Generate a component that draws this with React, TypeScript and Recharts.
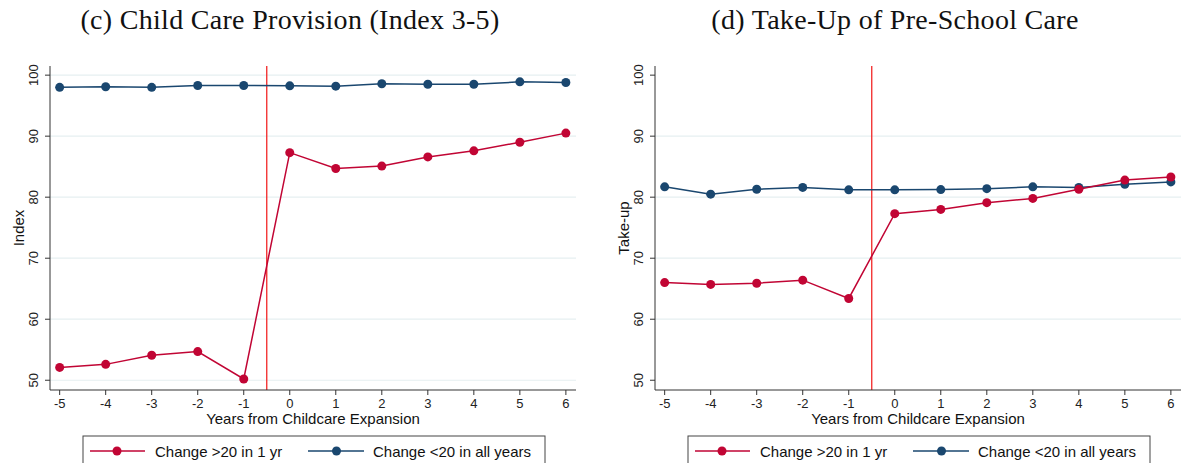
import React from "react";
import { LineChart, Line, XAxis, YAxis, CartesianGrid, ReferenceLine } from "recharts";

const years = [-5, -4, -3, -2, -1, 0, 1, 2, 3, 4, 5, 6];
const yTicks = [50, 60, 70, 80, 90, 100];

const provisionRed = [52.1, 52.6, 54.1, 54.7, 50.2, 87.3, 84.7, 85.1, 86.6, 87.6, 89.0, 90.5];
const provisionBlue = [98.0, 98.1, 98.0, 98.3, 98.3, 98.25, 98.2, 98.6, 98.5, 98.5, 98.9, 98.8];

const takeupRed = [66.0, 65.7, 65.9, 66.4, 63.4, 77.3, 78.0, 79.1, 79.8, 81.3, 82.8, 83.3];
const takeupBlue = [81.7, 80.5, 81.3, 81.6, 81.2, 81.2, 81.25, 81.4, 81.7, 81.6, 82.1, 82.5];

const legendLabels = ["Change >20 in 1 yr", "Change <20 in all years"];
const titles = ["(c) Child Care Provision (Index 3-5)", "(d) Take-Up of Pre-School Care"];
const yLabels = ["Index", "Take-up"];
const xLabel = "Years from Childcare Expansion";

const RED = "#C10534";
const BLUE = "#1A476F";
const SANS = "'Liberation Sans', Arial, sans-serif";
const SERIF = "'Liberation Serif', 'Times New Roman', serif";

const YTick = (props: any) => {
  const { x, y, payload } = props;
  const cx = x - 11;
  return (
    <text
      x={cx}
      y={y}
      transform={`rotate(-90, ${cx}, ${y})`}
      textAnchor="middle"
      dominantBaseline="central"
      fontSize={13}
      fontFamily={SANS}
      fill="#222"
    >
      {payload.value}
    </text>
  );
};

type PanelProps = {
  left: number;
  title: string;
  yLabel: string;
  red: number[];
  blue: number[];
  grid: number[];
};

const Panel = ({ left, title, yLabel, red, blue, grid }: PanelProps) => {
  const data = years.map((x, i) => ({ x, red: red[i], blue: blue[i] }));
  return (
    <div style={{ position: "absolute", left, top: 0, width: 590, height: 463 }}>
      <LineChart
        width={590}
        height={463}
        data={data}
        margin={{ top: 66, right: 14, left: 10, bottom: 43 }}
      >
        <CartesianGrid horizontal vertical={false} horizontalValues={grid} stroke="#E6EFF1" strokeWidth={1.2} />
        <XAxis
          type="number"
          dataKey="x"
          domain={[-5.21, 6.22]}
          ticks={years}
          allowDataOverflow
          height={30}
          tickSize={5}
          tickMargin={4}
          stroke="#333"
          tick={{ fontSize: 13, fontFamily: SANS, fill: "#222" }}
        />
        <YAxis
          type="number"
          domain={[48.4, 101.5]}
          ticks={yTicks}
          allowDataOverflow
          width={40}
          tickSize={5}
          tickMargin={0}
          stroke="#333"
          tick={<YTick />}
        />
        <ReferenceLine x={-0.5} stroke="#F22626" strokeWidth={1.3} />
        <Line
          dataKey="blue"
          stroke={BLUE}
          strokeWidth={1.5}
          dot={{ r: 4.5, fill: BLUE, stroke: BLUE, strokeWidth: 0 }}
          isAnimationActive={false}
        />
        <Line
          dataKey="red"
          stroke={RED}
          strokeWidth={1.5}
          dot={{ r: 4.5, fill: RED, stroke: RED, strokeWidth: 0 }}
          isAnimationActive={false}
        />
      </LineChart>
      <svg
        width={590}
        height={463}
        style={{ position: "absolute", left: 0, top: 0, pointerEvents: "none" }}
      >
        <text
          x={290}
          y={28.5}
          textAnchor="middle"
          fontSize={28}
          letterSpacing={0.3}
          fontFamily={SERIF}
          fill="#111"
        >
          {title}
        </text>
        <text x={313} y={423.5} textAnchor="middle" fontSize={15} fontFamily={SANS} fill="#111">
          {xLabel}
        </text>
        <text
          x={18.5}
          y={228}
          transform="rotate(-90, 18.5, 228)"
          textAnchor="middle"
          dominantBaseline="central"
          fontSize={15}
          fontFamily={SANS}
          fill="#111"
        >
          {yLabel}
        </text>
        <rect x={83} y={436} width={462} height={40} fill="#fff" stroke="#444" strokeWidth={1} />
        <line x1={90} x2={145} y1={451} y2={451} stroke={RED} strokeWidth={1.5} />
        <circle cx={117} cy={451} r={4.5} fill={RED} />
        <text x={155} y={451} dominantBaseline="central" fontSize={15} fontFamily={SANS} fill="#111">
          {legendLabels[0]}
        </text>
        <line x1={308} x2={364} y1={451} y2={451} stroke={BLUE} strokeWidth={1.5} />
        <circle cx={336.5} cy={451} r={4.5} fill={BLUE} />
        <text x={373} y={451} dominantBaseline="central" fontSize={15} fontFamily={SANS} fill="#111">
          {legendLabels[1]}
        </text>
      </svg>
    </div>
  );
};

export default function App() {
  return (
    <div
      style={{
        position: "absolute",
        left: 0,
        top: 0,
        width: 1181,
        height: 463,
        background: "#fff",
        overflow: "hidden",
      }}
    >
      <Panel left={0} title={titles[0]} yLabel={yLabels[0]} red={provisionRed} blue={provisionBlue} grid={[50, 60, 70, 80, 90, 100]} />
      <Panel left={605} title={titles[1]} yLabel={yLabels[1]} red={takeupRed} blue={takeupBlue} grid={[60, 70, 80, 90]} />
    </div>
  );
}
